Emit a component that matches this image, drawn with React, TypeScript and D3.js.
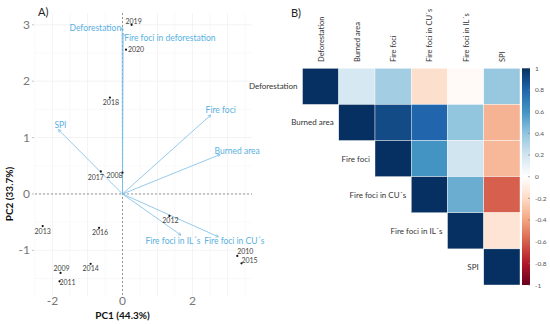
import { useEffect, useRef } from 'react';
import * as d3 from 'd3';

// PCA scores (years)
const years = ['2019', '2020', '2018', '2017', '2008', '2012', '2013', '2016', '2010', '2015', '2009', '2011', '2014'];
const pc1 = [0.26, 0.1, -0.36, -0.62, 0.0, 1.34, -2.28, -0.67, 3.28, 3.4, -1.77, -1.8, -0.91];
const pc2 = [3.0, 2.56, 1.71, 0.4, 0.38, -0.39, -0.57, -0.6, -1.1, -1.23, -1.4, -1.55, -1.24];

// PCA loadings (variables, scaled)
const loadNames = ['Deforestation', 'Fire foci in deforestation', 'Fire foci', 'Burned area', 'SPI', 'Fire foci in IL´s', 'Fire foci in CU´s'];
const loadX = [-0.01, 0.02, 2.52, 2.79, -1.83, 1.67, 2.74];
const loadY = [2.95, 2.85, 1.4, 0.7, 1.14, -0.73, -0.76];

const xTicks = [-2, 0, 2];
const yTicks = [-1, 0, 1, 2, 3];

// Correlation matrix (upper triangle, row by row)
const corVars = ['Deforestation', 'Burned area', 'Fire foci', 'Fire foci in CU´s', 'Fire foci in IL´s', 'SPI'];
const corRows = [
  [1, 0.18, 0.35, -0.18, -0.03, 0.38],
  [1, 0.9, 0.8, 0.4, -0.35],
  [1, 0.6, 0.2, -0.33],
  [1, 0.5, -0.6],
  [1, -0.15],
  [1],
];
const barTicks = [1, 0.8, 0.6, 0.4, 0.2, 0, -0.2, -0.4, -0.6, -0.8, -1];

// label nudges in px (label placement, like ggrepel)
const yearNudge: [number, number][] = [[2, -3], [10, 0], [1, 5], [-5, 6], [-8, 3], [1, 5], [0, 5], [1, 5], [8, -4], [8, -3], [1, -4], [8, 1], [0, 5]];
const loadNudge: [number, number, string][] = [[-1, 0, 'end'], [1, 5, 'start'], [10, -5, 'middle'], [17, -4, 'middle'], [2, -5, 'middle'], [-8, 6, 'middle'], [16, 4, 'middle']];

const FONT = 'Lato, "Open Sans", sans-serif';
const BLUE = '#79bde6';
const BLUE_TXT = '#5ab0e2';

export default function App() {
  const svgRef = useRef<SVGSVGElement>(null);

  useEffect(() => {
    if (!svgRef.current) return;
    const root = d3.select(svgRef.current);
    root.selectAll('*').remove();
    const svg = root.append('g').style('font-family', FONT);

    // ---------- A) biplot ----------
    const x = d3.scaleLinear().domain([-2.5, 3.7]).range([35, 252]);
    const y = d3.scaleLinear().domain([-1.81, 3.21]).range([296, 13]);

    const grid = svg.append('g');
    d3.range(-2.5, 3.75, 0.5).forEach(v => {
      grid.append('line').attr('x1', x(v)).attr('x2', x(v)).attr('y1', y.range()[1]).attr('y2', y.range()[0])
        .style('stroke', Number.isInteger(v) ? '#ececec' : '#f5f5f5').style('stroke-width', 0.6);
    });
    d3.range(-1.5, 3.25, 0.5).forEach(v => {
      grid.append('line').attr('y1', y(v)).attr('y2', y(v)).attr('x1', x.range()[0]).attr('x2', x.range()[1])
        .style('stroke', Number.isInteger(v) ? '#ececec' : '#f5f5f5').style('stroke-width', 0.6);
    });

    // reference dashed lines
    svg.append('line').attr('x1', x(0)).attr('x2', x(0)).attr('y1', y.range()[1]).attr('y2', y.range()[0])
      .style('stroke', '#555').style('stroke-width', 0.6).style('stroke-dasharray', '2,2');
    svg.append('line').attr('y1', y(0)).attr('y2', y(0)).attr('x1', x.range()[0]).attr('x2', x.range()[1])
      .style('stroke', '#555').style('stroke-width', 0.6).style('stroke-dasharray', '2,2');

    // ticks
    svg.append('g').selectAll('text').data(xTicks).enter().append('text')
      .attr('x', d => x(d)).attr('y', 305).attr('text-anchor', 'middle')
      .text(d => d < 0 ? `-${Math.abs(d)}` : `${d}`)
      .style('fill', '#777').style('font-size', '12px');
    svg.append('g').selectAll('text').data(yTicks).enter().append('text')
      .attr('x', 30).attr('y', d => y(d) + 4).attr('text-anchor', 'end')
      .text(d => d < 0 ? `-${Math.abs(d)}` : `${d}`)
      .style('fill', '#777').style('font-size', '12px');
    svg.append('g').selectAll('line').data(yTicks).enter().append('line')
      .attr('x1', 32).attr('x2', 34).attr('y1', d => y(d)).attr('y2', d => y(d))
      .style('stroke', '#999').style('stroke-width', 0.6);

    // axis titles
    svg.append('text').attr('x', x(0)).attr('y', 319).attr('text-anchor', 'middle')
      .text('PC1 (44.3%)').style('font-weight', 'bold').style('font-size', '10px').style('fill', '#111');
    svg.append('text').attr('transform', `translate(13,${y(0)}) rotate(-90)`).attr('text-anchor', 'middle')
      .text('PC2 (33.7%)').style('font-weight', 'bold').style('font-size', '10px').style('fill', '#111');

    svg.append('text').attr('x', 38).attr('y', 16).text('A)').style('font-size', '11px').style('fill', '#222');

    // loadings arrows
    const arrows = svg.append('g');
    loadNames.forEach((name, i) => {
      const x1 = x(loadX[i]), y1 = y(loadY[i]);
      const x0 = x(0), y0 = y(0);
      arrows.append('line').attr('x1', x0).attr('y1', y0).attr('x2', x1).attr('y2', y1)
        .style('stroke', BLUE).style('stroke-width', 0.8);
      const ang = Math.atan2(y1 - y0, x1 - x0);
      const len = 3;
      [0.5, -0.5].forEach(s => {
        arrows.append('line').attr('x1', x1).attr('y1', y1)
          .attr('x2', x1 - len * Math.cos(ang + s)).attr('y2', y1 - len * Math.sin(ang + s))
          .style('stroke', BLUE).style('stroke-width', 0.8);
      });
      const [dx, dy, anchor] = loadNudge[i];
      arrows.append('text').attr('x', x1 + dx).attr('y', y1 + dy + 3).attr('text-anchor', anchor)
        .text(name).style('fill', BLUE_TXT).style('font-size', '8.5px');
    });

    // score points
    const pts = svg.append('g');
    years.forEach((yr, i) => {
      const px = x(pc1[i]), py = y(pc2[i]);
      pts.append('circle').attr('cx', px).attr('cy', py).attr('r', 1.1).style('fill', '#111');
      pts.append('text').attr('x', px + yearNudge[i][0]).attr('y', py + yearNudge[i][1] + 2.5)
        .attr('text-anchor', 'middle').text(yr).style('fill', '#444').style('font-size', '7px');
    });

    // ---------- B) correlation heatmap ----------
    const cx = d3.scaleBand().domain(corVars).range([302.5, 520]);
    const cy = d3.scaleBand().domain(corVars).range([68.3, 285]);
    const color = d3.scaleLinear<string>()
      .domain(d3.range(-1, 1.01, 0.2))
      .range(['#67001F', '#B2182B', '#D6604D', '#F4A582', '#FDDBC7', '#FFFFFF', '#D1E5F0', '#92C5DE', '#4393C3', '#2166AC', '#053061'])
      .clamp(true);

    const cells = svg.append('g');
    corRows.forEach((row, i) => {
      row.forEach((v, k) => {
        const j = i + k;
        cells.append('rect')
          .attr('x', cx(corVars[j])!).attr('y', cy(corVars[i])!)
          .attr('width', cx.bandwidth()).attr('height', cy.bandwidth())
          .style('fill', color(v)).style('stroke', '#fff').style('stroke-width', 0.4);
      });
    });

    // column labels
    svg.append('g').selectAll('text').data(corVars).enter().append('text')
      .attr('transform', d => `translate(${cx(d)! + cx.bandwidth() / 2 + 3},62) rotate(-90)`)
      .attr('text-anchor', 'start')
      .text(d => d).style('fill', '#333').style('font-size', '7.5px');
    // row labels
    svg.append('g').selectAll('text').data(corVars).enter().append('text')
      .attr('x', d => cx(d)! - 5).attr('y', d => cy(d)! + cy.bandwidth() / 2 + 3)
      .attr('text-anchor', 'end')
      .text(d => d).style('fill', '#333').style('font-size', '8px');

    svg.append('text').attr('x', 291).attr('y', 17).text('B)').style('font-size', '11px').style('fill', '#222');

    // colour bar
    const by = d3.scaleLinear().domain([1, -1]).range([68.3, 285]);
    const defs = root.append('defs');
    const grad = defs.append('linearGradient').attr('id', 'cbar').attr('x1', 0).attr('x2', 0).attr('y1', 0).attr('y2', 1);
    d3.range(0, 1.001, 0.05).forEach(t => {
      grad.append('stop').attr('offset', t).attr('stop-color', color(1 - 2 * t));
    });
    svg.append('rect').attr('x', 522).attr('y', by(1)).attr('width', 8).attr('height', by(-1) - by(1))
      .style('fill', 'url(#cbar)');
    svg.append('g').selectAll('line').data(barTicks).enter().append('line')
      .attr('x1', 528).attr('x2', 530).attr('y1', d => by(d)).attr('y2', d => by(d))
      .style('stroke', '#777').style('stroke-width', 0.6);
    svg.append('g').selectAll('text').data(barTicks).enter().append('text')
      .attr('x', 535).attr('y', d => by(d) + 2.5)
      .text(d => `${d}`).style('fill', '#555').style('font-size', '6.5px');
  }, []);

  return (
    <svg ref={svgRef} width={550} height={324}
      style={{ position: 'absolute', left: 0, top: 0, background: '#fff' }} />
  );
}
